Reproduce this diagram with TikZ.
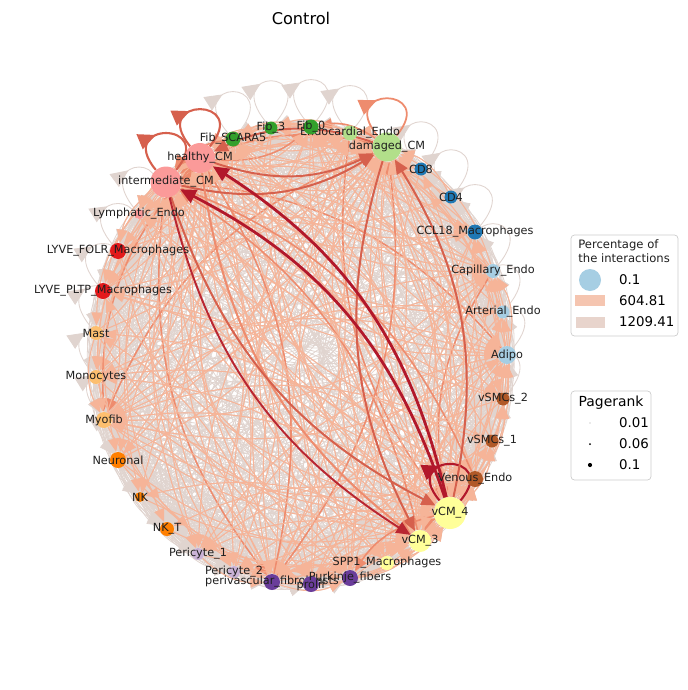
\documentclass[tikz,border=0pt]{standalone}
\usepackage{fontspec}
\setmainfont{DejaVu Sans}
\usetikzlibrary{arrows.meta,calc,decorations.markings}
\pgfdeclarelayer{edges}
\pgfsetlayers{edges,main}
\definecolor{edgegrey}{RGB}{224,212,207}
\definecolor{edgesalmon}{RGB}{246,180,152}
\definecolor{edgered}{RGB}{214,96,77}
\definecolor{edgeorange}{RGB}{238,140,110}
\definecolor{edgedark}{RGB}{178,24,43}
\definecolor{pairA}{HTML}{A6CEE3}
\definecolor{pairB}{HTML}{1F78B4}
\definecolor{pairC}{HTML}{B2DF8A}
\definecolor{pairD}{HTML}{33A02C}
\definecolor{pairE}{HTML}{FB9A99}
\definecolor{pairF}{HTML}{E31A1C}
\definecolor{pairG}{HTML}{FDBF6F}
\definecolor{pairH}{HTML}{FF7F00}
\definecolor{pairI}{HTML}{CAB2D6}
\definecolor{pairJ}{HTML}{6A3D9A}
\definecolor{pairK}{HTML}{FFFF99}
\definecolor{pairL}{HTML}{B15928}
\tikzset{
  cell/.style={circle,inner sep=0pt,draw=none},
  cellname/.style={font=\fontsize{6.4}{7}\selectfont,text=black!88,inner sep=0pt},
  link/.style={draw=edgegrey,line width=0.45pt,-{Triangle[length=7.5pt,width=6pt]}},
  warm/.style={draw=edgesalmon,line width=0.6pt,-{Triangle[length=7.5pt,width=6pt]}},
  hot/.style={draw=edgered,line width=1.1pt,-{Triangle[length=8pt,width=7pt]}},
  strong/.style={draw=edgedark,line width=1.6pt,-{Triangle[length=9pt,width=8pt]}},
  selfloop/.style={line width=0.5pt,postaction={decorate},
    decoration={markings,mark=at position 0.4 with {\arrow{Triangle[length=10pt,width=9pt]}}}},
  legendframe/.style={draw=black!20,rounded corners=2pt,fill=white}
}
\def\cells{adipo,arterial_endo,capillary_endo,ccl18_mac,cd4,cd8,damaged_cm,endocardial_endo,fib_0,fib_3,fib_scara5,healthy_cm,intermediate_cm,lymphatic_endo,lyve_folr,lyve_pltp,mast,monocytes,myofib,neuronal,nk,nk_t,pericyte_1,pericyte_2,perivascular_fib,prolif,purkinje,spp1_mac,vcm_3,vcm_4,venous_endo,vsmcs_1,vsmcs_2}
\def\strength{{2,1,2,1,0,0,4,2,2,1,2,4,4,1,1,1,1,1,2,1,0,0,1,1,2,1,2,1,3,4,2,1,1}}

\begin{document}
\begin{tikzpicture}[x=0.02cm,y=-0.02cm]
\useasboundingbox (0,0) rectangle (687,690);

\node[font=\fontsize{9.2}{11}\selectfont] (title) at (301,18) {Control};

% cell types round the circle
\node[cell,minimum size=18*0.02cm,fill=pairA,label={[cellname]center:Adipo}] (adipo) at (507,355) {};
\node[cell,minimum size=13*0.02cm,fill=pairA,label={[cellname]center:Arterial\_Endo}] (arterial_endo) at (503,312) {};
\node[cell,minimum size=14*0.02cm,fill=pairA,label={[cellname]center:Capillary\_Endo}] (capillary_endo) at (493,271) {};
\node[cell,minimum size=15*0.02cm,fill=pairB,label={[cellname]center:CCL18\_Macrophages}] (ccl18_mac) at (475,232) {};
\node[cell,minimum size=13*0.02cm,fill=pairB,label={[cellname]center:CD4}] (cd4) at (451,197) {};
\node[cell,minimum size=13*0.02cm,fill=pairB,label={[cellname]center:CD8}] (cd8) at (421,169) {};
\node[cell,minimum size=29*0.02cm,fill=pairC,label={[cellname]center:damaged\_CM}] (damaged_cm) at (387,147) {};
\node[cell,minimum size=15*0.02cm,fill=pairC,label={[cellname]center:Endocardial\_Endo}] (endocardial_endo) at (350,133) {};
\node[cell,minimum size=15*0.02cm,fill=pairD,label={[cellname]center:Fib\_0}] (fib_0) at (311,127) {};
\node[cell,minimum size=13*0.02cm,fill=pairD,label={[cellname]center:Fib\_3}] (fib_3) at (271,128) {};
\node[cell,minimum size=15*0.02cm,fill=pairD,label={[cellname]center:Fib\_SCARA5}] (fib_scara5) at (233,139) {};
\node[cell,minimum size=30*0.02cm,fill=pairE,label={[cellname]center:healthy\_CM}] (healthy_cm) at (200,158) {};
\node[cell,minimum size=31*0.02cm,fill=pairE,label={[cellname]center:intermediate\_CM}] (intermediate_cm) at (166,182) {};
\node[cell,minimum size=10*0.02cm,fill=pairE,label={[cellname]center:Lymphatic\_Endo}] (lymphatic_endo) at (139,214) {};
\node[cell,minimum size=16*0.02cm,fill=pairF,label={[cellname]center:LYVE\_FOLR\_Macrophages}] (lyve_folr) at (118,251) {};
\node[cell,minimum size=16*0.02cm,fill=pairF,label={[cellname]center:LYVE\_PLTP\_Macrophages}] (lyve_pltp) at (103,291) {};
\node[cell,minimum size=14*0.02cm,fill=pairG,label={[cellname]center:Mast}] (mast) at (96,333) {};
\node[cell,minimum size=14*0.02cm,fill=pairG,label={[cellname]center:Monocytes}] (monocytes) at (96,377) {};
\node[cell,minimum size=16*0.02cm,fill=pairG,label={[cellname]center:Myofib}] (myofib) at (104,420) {};
\node[cell,minimum size=16*0.02cm,fill=pairH,label={[cellname]center:Neuronal}] (neuronal) at (118,460) {};
\node[cell,minimum size=10*0.02cm,fill=pairH,label={[cellname]center:NK}] (nk) at (140,497) {};
\node[cell,minimum size=14*0.02cm,fill=pairH,label={[cellname]center:NK\_T}] (nk_t) at (167,529) {};
\node[cell,minimum size=12*0.02cm,fill=pairI,label={[cellname]center:Pericyte\_1}] (pericyte_1) at (198,554) {};
\node[cell,minimum size=12*0.02cm,fill=pairI,label={[cellname]center:Pericyte\_2}] (pericyte_2) at (234,572) {};
\node[cell,minimum size=16*0.02cm,fill=pairJ,label={[cellname]center:perivascular\_fibroblasts}] (perivascular_fib) at (272,582) {};
\node[cell,minimum size=16*0.02cm,fill=pairJ,label={[cellname,yshift=-1pt]center:prolif}] (prolif) at (311,584) {};
\node[cell,minimum size=16*0.02cm,fill=pairJ,label={[cellname]center:Purkinje\_fibers}] (purkinje) at (350,578) {};
\node[cell,minimum size=14*0.02cm,fill=pairK,label={[cellname]center:SPP1\_Macrophages}] (spp1_mac) at (387,563) {};
\node[cell,minimum size=22*0.02cm,fill=pairK,label={[cellname]center:vCM\_3}] (vcm_3) at (420,541) {};
\node[cell,minimum size=32*0.02cm,fill=pairK,label={[cellname]center:vCM\_4}] (vcm_4) at (450,513) {};
\node[cell,minimum size=16*0.02cm,fill=pairL,label={[cellname]center:Venous\_Endo}] (venous_endo) at (475,479) {};
\node[cell,minimum size=13*0.02cm,fill=pairL,label={[cellname]center:vSMCs\_1}] (vsmcs_1) at (492,441) {};
\node[cell,minimum size=13*0.02cm,fill=pairL,label={[cellname]center:vSMCs\_2}] (vsmcs_2) at (503,399) {};

\begin{pgfonlayer}{edges}
% self loops, all drawn upwards
\foreach \a in {adipo,arterial_endo,capillary_endo,ccl18_mac,cd4,cd8,endocardial_endo,fib_0,fib_3,fib_scara5,lymphatic_endo,lyve_folr,lyve_pltp,mast,monocytes,myofib,neuronal,nk,nk_t,pericyte_1,pericyte_2,perivascular_fib,prolif,purkinje,spp1_mac,vcm_3,venous_endo,vsmcs_1,vsmcs_2}
  \draw[selfloop,draw=edgegrey] (\a) .. controls +(130:1.6cm) and +(50:1.6cm) .. (\a);

% every pair, faint
\foreach \a [count=\i] in \cells {
  \foreach \b [count=\j] in \cells {
    \ifnum\i=\j\relax\else
      \draw[link] (\a) to[bend right=22] (\b);
    \fi
  }
}
% the stronger ones on top
\foreach \a [count=\i] in \cells {
  \foreach \b [count=\j] in \cells {
    \ifnum\i=\j\relax\else
      \pgfmathtruncatemacro\w{\strength[\i-1]+\strength[\j-1]+mod(3*\i+7*\j,5)}
      \ifnum\w>6\relax
        \ifnum\w>9\relax
          \draw[warm,draw=edgeorange,line width=0.9pt] (\a) to[bend right=22] (\b);
        \else
          \draw[warm] (\a) to[bend right=22] (\b);
        \fi
      \fi
    \fi
  }
}

\draw[selfloop,draw=edgered,line width=1.2pt] (healthy_cm) .. controls +(130:1.6cm) and +(50:1.6cm) .. (healthy_cm);
\draw[selfloop,draw=edgered,line width=1.2pt] (intermediate_cm) .. controls +(130:1.6cm) and +(50:1.6cm) .. (intermediate_cm);
\draw[selfloop,draw=edgeorange,line width=1pt] (damaged_cm) .. controls +(130:1.6cm) and +(50:1.6cm) .. (damaged_cm);
\draw[selfloop,draw=edgedark,line width=1.2pt] (vcm_4) .. controls +(130:1.6cm) and +(50:1.6cm) .. (vcm_4);

% cardiomyocyte traffic
\draw[hot] (damaged_cm) to[bend right=22] (healthy_cm);
\draw[hot] (intermediate_cm) to[bend right=22] (damaged_cm);
\draw[hot] (healthy_cm) to[bend right=22] (damaged_cm);
\draw[hot] (damaged_cm) to[bend right=22] (vcm_3);
\draw[hot] (vcm_4) to[bend right=22] (damaged_cm);
\draw[hot,draw=edgeorange] (healthy_cm) to[bend right=22] (vcm_3);
\draw[hot] (intermediate_cm) to[bend right=22] (vcm_4);
\draw[strong] (vcm_4) to[bend right=22] (healthy_cm);
\draw[strong] (vcm_4) to[bend right=22] (intermediate_cm);
\draw[hot,draw=edgedark!80!edgered] (intermediate_cm) to[bend right=22] (vcm_3);
\end{pgfonlayer}

% legends
\draw[legendframe] (571,235) rectangle (678,336);
\node[cellname,anchor=north west,align=left,font=\fontsize{6.6}{7.9}\selectfont] (perc_title) at (578,239) {Percentage of\\the interactions};
\node[circle,fill=pairA,minimum size=22*0.02cm,inner sep=0pt] (perc_dot) at (590,280) {};
\node[anchor=west,font=\fontsize{7.6}{9}\selectfont] (perc_a) at (613,280) {0.1};
\fill[fill={rgb,255:red,245;green,197;blue,176}] (575,295) rectangle (605,306);
\node[anchor=west,font=\fontsize{7.6}{9}\selectfont] (perc_b) at (613,301) {604.81};
\fill[fill={rgb,255:red,232;green,212;blue,204}] (576,317) rectangle (605,328);
\node[anchor=west,font=\fontsize{7.6}{9}\selectfont] (perc_c) at (613,322) {1209.41};

\draw[legendframe] (571,391) rectangle (651,480);
\node[font=\fontsize{7.9}{9}\selectfont] (rank_title) at (611,403) {Pagerank};
\fill (590,423) circle (0.3);
\fill (590,444) circle (1);
\fill (590,465) circle (2.1);
\node[anchor=west,font=\fontsize{7.6}{9}\selectfont] (rank_a) at (613,423) {0.01};
\node[anchor=west,font=\fontsize{7.6}{9}\selectfont] (rank_b) at (613,444) {0.06};
\node[anchor=west,font=\fontsize{7.6}{9}\selectfont] (rank_c) at (613,465) {0.1};
\end{tikzpicture}
\end{document}
